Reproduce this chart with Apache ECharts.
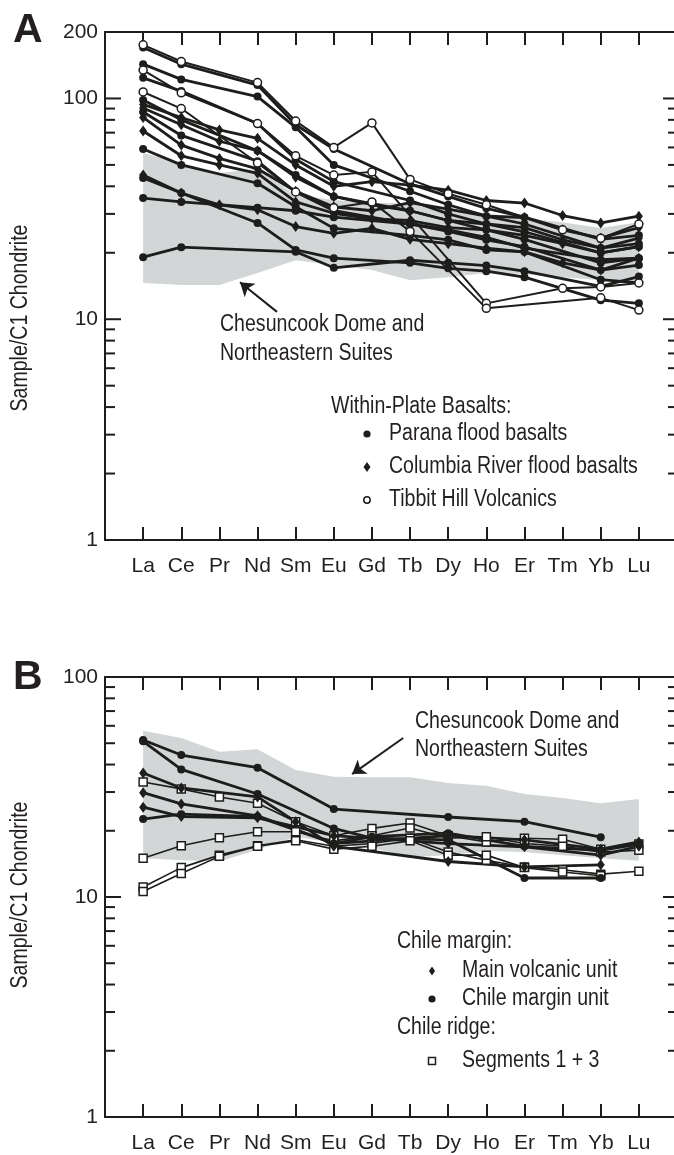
<!DOCTYPE html>
<html>
<head>
<meta charset="utf-8">
<script src="https://cdn.jsdelivr.net/npm/echarts@6/dist/echarts.min.js"></script>
<style>
  html, body { margin: 0; padding: 0; background: #fff; }
  #chart { width: 674px; height: 1155px; }
</style>
</head>
<body>
<div id="chart"></div>
<script>
// REE order on the x axis
const elements = ['La', 'Ce', 'Pr', 'Nd', 'Sm', 'Eu', 'Gd', 'Tb', 'Dy', 'Ho', 'Er', 'Tm', 'Yb', 'Lu'];
const n = null;

// grey field: Chesuncook Dome and Northeastern Suites
const bandUpperA = [56.6, 51, 46, 48, 36.5, 34.7, 33.6, 33.6, 31.9, 30.3, 28.7, 27.5, 25.9, 27.5];
const bandLowerA = [14.6, 14.3, 14.3, 16.2, 18.5, 17.6, 16.7, 15.0, 15.5, 16.2, 16.0, 15.5, 15.0, 14.6];
const bandUpperB = [57, 52.8, 45.7, 47, 37.8, 35.2, 35, 35, 33, 32, 29.4, 28.2, 26.7, 27.9];
const bandLowerB = [15.0, 14.7, 14.5, 16.4, 18.8, 17.6, 16.7, 15.2, 15.5, 16.2, 16.0, 15.5, 15.0, 14.6];

// panel A: within-plate basalts
const paranaA = [
  [170, 143, n, 115, 76, 59, n, 41, 36, 31.8, 29, n, 23, 24],
  [143, 122, n, 102, 74, 50, n, 38, 33, 29.3, 27, n, 21, 22],
  [124, 108, n, 77, 53, 42, n, 34.5, 30, 27, 24.9, n, 20, 21.3],
  [98.4, 80, n, 58, 45, 36, n, 31, 28, 25.4, 23, n, 18, 18.9],
  [86.8, 68, n, 52, 37.7, 31, n, 27, 25, 22.9, 21.3, n, 16.7, 17.6],
  [59, 50, n, 41.3, 32.3, 25.8, n, 24, 22.9, 20.6, 20.2, n, 15.1, 14.6],
  [43.6, 37.3, n, 27.3, 20.6, 18.9, n, 18, 17, 16.5, 15.5, n, 12.2, 11.8],
  [35.4, 34, n, 32, 31, 29, n, 27, 25.4, 23.5, 21, n, 18.6, 18.9],
  [19.1, 21.2, n, n, 20.2, 17.1, n, 18.5, 18, 17.5, 16.5, n, 14.1, 15.6]
];
const columbiaA = [
  [94, 82, 72, 66, 50, 40, 42, 40.5, 38.4, 34.5, 33.6, 29.5, 27.3, 29.3],
  [90.5, 76, 64, 58, 44, 36, 33, 31, 28, 27, 26, 22.9, 21, 23.3],
  [82, 61.5, 53.5, 48, 38, 32.3, 31, 33.7, 31.5, 29.3, 28.9, 25.4, 23.3, 26],
  [71.2, 55, 50, 45.8, 34, 30.2, 28.5, 28, 26, 25.4, 24, 22, 20, 21.3],
  [45, 37.3, 33, 31.3, 26.3, 24.5, 25.8, 23, 22, 21, 20.2, 18, 16.7, 18.9]
];
const tibbitA = [
  [175, 147, n, 118, 79, 60, 77.5, 43, 37, 33, n, 25.4, 23.3, 27],
  [134.5, 106, n, 77, 55, 45, 46.5, n, n, 11.8, n, 13.8, 14, 14.6],
  [107, 90, n, 51, 37.7, 32, 34, 25, n, 11.2, n, n, 12.5, 11.0]
];

// panel B: Chile margin and Chile ridge
const mainVolcanicB = [
  [36.6, 31.3, n, 28.5, 22, 17, n, n, 14.5, n, 13.7, n, 14.0, n],
  [29.8, 26.5, n, 23.4, n, 17.5, n, n, 19, n, 18.2, n, 16.5, 17.8],
  [25.6, 23.2, n, 22.9, n, 19, n, n, 17.5, n, 16.9, n, 15.5, 17]
];
const chileMarginB = [
  [51.7, 44.2, n, 38.7, n, 25.1, n, n, 23.1, n, 22, n, 18.7, n],
  [51, 38, n, 29.4, n, 20.5, 18.5, n, 18.2, n, 12.2, n, 12.2, n],
  [22.6, 23.8, n, 23.2, n, 17.5, 18.8, n, 19.5, n, 17, n, 16.3, 17.4]
];
const ridgeB = [
  [33.3, 31, 28.5, 26.7, 22, 19, 20.5, 21.7, 19, 17.8, 18.5, 18.3, 16.5, 17.4],
  [15.0, 17.1, 18.6, 19.8, 19.8, 18, 19, 20.6, 18.5, 18.8, 17.5, 17, 16, 16.3],
  [11.1, 13.6, 15.5, 17.1, 18.2, 17, 17.5, 18.5, 16, 14.7, 13.7, 13.3, 12.7, 13.1],
  [10.6, 12.8, 15.3, 17, 18, 16.5, 17, 18, 15.5, 15.5, 13.6, 13, 12.5, n]
];

const minorTicksA = [2, 3, 4, 5, 6, 7, 8, 9, 10, 20, 30, 40, 50, 60, 70, 80, 90, 100];
const minorTicksB = [2, 3, 4, 5, 6, 7, 8, 9, 10, 20, 30, 40, 50, 60, 70, 80, 90];
const yLabelsA = [1, 10, 100, 200];
const yLabelsB = [1, 10, 100];

const ink = '#1d1d1b';
const textInk = '#231f20';
const bandColor = '#d3d6d7';
const sans = '"Liberation Sans", Arial, sans-serif';
const X_MIN = -1, X_MAX = 14;
const idx = elements.map((e, i) => i);

const markStyles = {
  parana:  { symbol: 'circle', size: 8, fill: ink, bw: 0, lw: 2.8 },
  diamond: { symbol: 'diamond', size: [8, 11], fill: ink, bw: 0, lw: 2.8 },
  tibbit:  { symbol: 'circle', size: 8, fill: '#fff', bw: 1.5, lw: 2 },
  square:  { symbol: 'rect', size: 8, fill: '#fff', bw: 1.5, lw: 1.6 }
};

function lineSeries(values, kind, gi) {
  const st = markStyles[kind];
  const data = [];
  values.forEach((v, i) => { if (v != null) data.push([i, v]); });
  return {
    type: 'line', xAxisIndex: gi * 2, yAxisIndex: gi * 2, data,
    symbol: st.symbol, symbolSize: st.size, showAllSymbol: true,
    lineStyle: { color: ink, width: st.lw },
    itemStyle: { color: st.fill, borderColor: ink, borderWidth: st.bw },
    emphasis: { disabled: true }, silent: true, z: 3
  };
}

function bandSeries(upper, lower, gi) {
  return {
    type: 'custom', xAxisIndex: gi * 2, yAxisIndex: gi * 2, data: [[0, 10]], silent: true, z: 1,
    renderItem(params, api) {
      const pts = [];
      upper.forEach((v, i) => pts.push(api.coord([i, v])));
      for (let i = lower.length - 1; i >= 0; i--) pts.push(api.coord([i, lower[i]]));
      return { type: 'polygon', shape: { points: pts }, style: { fill: bandColor } };
    }
  };
}

// log ticks at 2..9 of every decade, on both sides, pointing inward
function tickSeries(vals, gi) {
  return {
    type: 'custom', xAxisIndex: gi * 2, yAxisIndex: gi * 2, data: vals.map(v => [0, v]),
    silent: true, clip: false, z: 4,
    renderItem(params, api) {
      const v = api.value(1);
      const major = v === 10 || v === 100;
      const l = api.coord([X_MIN, v]);
      const r = api.coord([X_MAX, v]);
      const lenL = major ? 16 : 10, lenR = major ? 14 : 9;
      return {
        type: 'group', children: [
          { type: 'line', shape: { x1: l[0], y1: l[1], x2: l[0] + lenL, y2: l[1] }, style: { stroke: ink, lineWidth: 2 } },
          { type: 'line', shape: { x1: r[0] - lenR, y1: r[1], x2: r[0], y2: r[1] }, style: { stroke: ink, lineWidth: 2 } }
        ]
      };
    }
  };
}

function xAxes(gi) {
  const common = {
    type: 'value', gridIndex: gi, min: X_MIN, max: X_MAX,
    axisLine: { show: true, onZero: false, lineStyle: { color: ink, width: 2 } },
    axisTick: { show: true, inside: true, length: 13, customValues: idx, lineStyle: { color: ink, width: 2 } },
    splitLine: { show: false }
  };
  return [
    Object.assign({}, common, {
      position: 'bottom',
      axisLabel: { customValues: idx, formatter: v => elements[v], fontSize: 21, fontFamily: sans, color: textInk, margin: 16 }
    }),
    Object.assign({}, common, { position: 'top', axisLabel: { show: false } })
  ];
}

function yAxes(gi, max, labels) {
  const common = {
    type: 'log', logBase: 10, gridIndex: gi, min: 1, max: max,
    axisTick: { show: false }, minorTick: { show: false }, splitLine: { show: false }
  };
  return [
    Object.assign({}, common, {
      position: 'left',
      axisLine: { show: true, onZero: false, lineStyle: { color: ink, width: 2 } },
      axisLabel: { customValues: labels, fontSize: 21, fontFamily: sans, color: textInk, margin: 7, showMinLabel: true, showMaxLabel: true }
    }),
    Object.assign({}, common, {
      position: 'right',
      axisLine: { show: true, onZero: false, lineStyle: { color: ink, width: 2 } },
      axisLabel: { show: false }
    })
  ];
}

function arrowMark(from, to) {
  return {
    silent: true, symbol: ['none', 'arrow'], symbolSize: 13, animation: false,
    lineStyle: { color: ink, width: 2, type: 'solid' }, label: { show: false },
    data: [[{ coord: from }, { coord: to }]]
  };
}

const series = [
  bandSeries(bandUpperA, bandLowerA, 0),
  bandSeries(bandUpperB, bandLowerB, 1),
  tickSeries(minorTicksA, 0),
  tickSeries(minorTicksB, 1)
];
paranaA.forEach(v => series.push(lineSeries(v, 'parana', 0)));
columbiaA.forEach(v => series.push(lineSeries(v, 'diamond', 0)));
tibbitA.forEach(v => series.push(lineSeries(v, 'tibbit', 0)));
ridgeB.forEach(v => series.push(lineSeries(v, 'square', 1)));
mainVolcanicB.forEach(v => series.push(lineSeries(v, 'diamond', 1)));
chileMarginB.forEach(v => series.push(lineSeries(v, 'parana', 1)));

// annotation arrows pointing at the grey field
series[0].markLine = arrowMark([3.51, 10.8], [2.54, 14.7]);
series[1].markLine = arrowMark([6.82, 52.8], [5.48, 36.2]);

// condensed look: 23px text squeezed horizontally
function txt(x, y, text) {
  return {
    type: 'text', x: x, y: y, scaleX: 0.85, silent: true, z: 10,
    style: { text: text, font: '23px ' + sans, fill: textInk, verticalAlign: 'middle', align: 'left' }
  };
}
function dot(cx, cy) { return { type: 'circle', shape: { cx, cy, r: 3.6 }, style: { fill: ink }, z: 10 }; }
function ring(cx, cy) { return { type: 'circle', shape: { cx, cy, r: 3.2 }, style: { fill: '#fff', stroke: ink, lineWidth: 1.5 }, z: 10 }; }
function diamond(cx, cy, w, h) {
  return { type: 'polygon', shape: { points: [[cx, cy - h / 2], [cx + w / 2, cy], [cx, cy + h / 2], [cx - w / 2, cy]] }, style: { fill: ink }, z: 10 };
}
function box(cx, cy) { return { type: 'rect', shape: { x: cx - 3.5, y: cy - 3.5, width: 7, height: 7 }, style: { fill: '#fff', stroke: ink, lineWidth: 1.5 }, z: 10 }; }
function yName(cy) {
  return {
    type: 'text', x: 21, y: cy, rotation: Math.PI / 2, scaleX: 0.85, silent: true,
    style: { text: 'Sample/C1 Chondrite', font: '23px ' + sans, fill: textInk, align: 'center', verticalAlign: 'middle' }
  };
}

const graphics = [
  { type: 'text', x: 13, y: 31, silent: true, style: { text: 'A', font: 'bold 41px ' + sans, fill: textInk, verticalAlign: 'middle' } },
  { type: 'text', x: 13, y: 678, silent: true, style: { text: 'B', font: 'bold 41px ' + sans, fill: textInk, verticalAlign: 'middle' } },
  yName(318),
  yName(895),
  txt(220, 325, 'Chesuncook Dome and'),
  txt(220, 354, 'Northeastern Suites'),
  txt(331, 407, 'Within-Plate Basalts:'),
  dot(367, 434), txt(389, 434, 'Parana flood basalts'),
  diamond(367, 467, 7, 10), txt(389, 467, 'Columbia River flood basalts'),
  ring(367, 500), txt(389, 500, 'Tibbit Hill Volcanics'),
  txt(415, 722, 'Chesuncook Dome and'),
  txt(415, 750, 'Northeastern Suites'),
  txt(397, 942, 'Chile margin:'),
  diamond(432, 971, 6, 9), txt(462, 971, 'Main volcanic unit'),
  dot(432, 999), txt(462, 999, 'Chile margin unit'),
  txt(397, 1028, 'Chile ridge:'),
  box(432, 1061), txt(462, 1061, 'Segments 1 + 3')
];

const chart = echarts.init(document.getElementById('chart'), null, { renderer: 'canvas' });
chart.setOption({
  animation: false,
  backgroundColor: '#fff',
  grid: [
    { left: 105, top: 32, width: 572, height: 508, outerBoundsMode: 'none' },
    { left: 105, top: 677, width: 572, height: 440, outerBoundsMode: 'none' }
  ],
  xAxis: xAxes(0).concat(xAxes(1)),
  yAxis: yAxes(0, 200, yLabelsA).concat(yAxes(1, 100, yLabelsB)),
  series: series,
  graphic: graphics
});
</script>
</body>
</html>
